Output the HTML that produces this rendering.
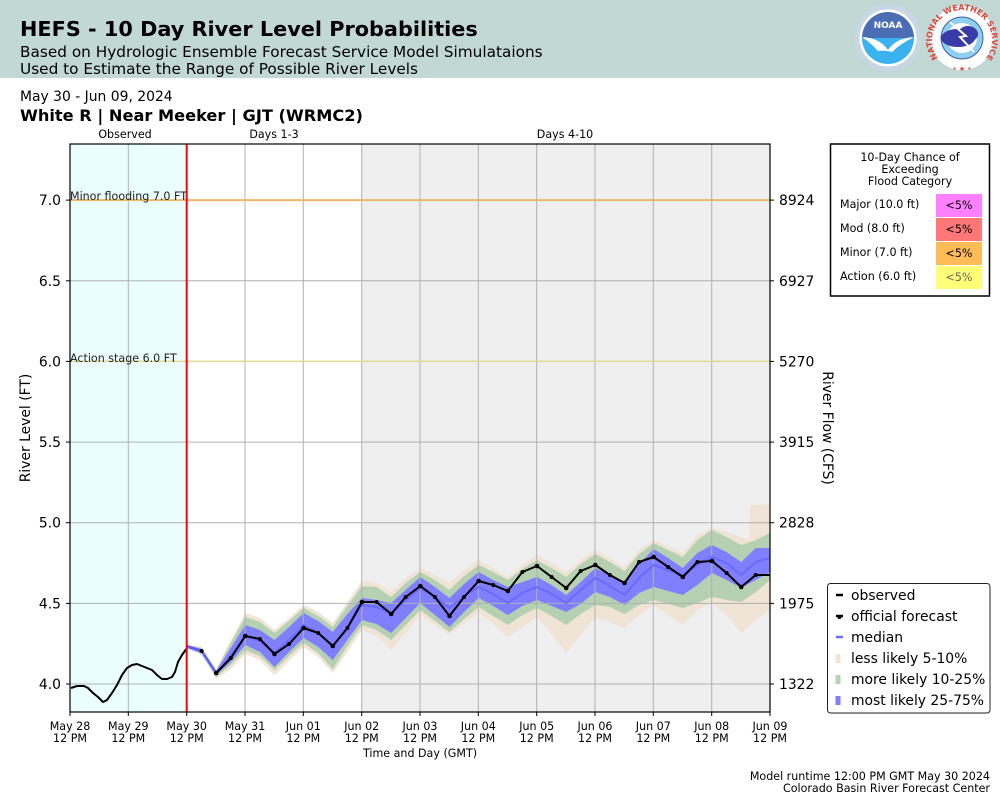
<!DOCTYPE html>
<html><head><meta charset="utf-8"><style>
html,body{margin:0;padding:0;background:#fff;}
svg{display:block;font-family:"DejaVu Sans","Liberation Sans",sans-serif;}
</style></head><body>
<svg width="1000" height="800" viewBox="0 0 1000 800" xmlns="http://www.w3.org/2000/svg">
<!-- header -->
<rect x="0" y="0" width="1000" height="78" fill="#c2d8d5"/>
<text x="20" y="36" font-size="20.8" font-weight="bold" fill="#000">HEFS - 10 Day River Level Probabilities</text>
<text x="20" y="57" font-size="15.3" fill="#000">Based on Hydrologic Ensemble Forecast Service Model Simulataions</text>
<text x="20" y="74" font-size="15.3" fill="#000">Used to Estimate the Range of Possible River Levels</text>

<!-- NOAA logo -->
<g>
<circle cx="888" cy="38" r="32" fill="#fff"/>
<circle cx="888" cy="38" r="31" fill="none" stroke="#c9d6e4" stroke-width="5"/>
<path d="M862,38 A26,26 0 0 1 914,38 Z" fill="#4a6db3"/>
<path d="M862,38 A26,26 0 0 0 914,38 Z" fill="#3ab2f0"/>
<path d="M862,37 Q880,38 888,50 Q896,38 914,37 Q900,44 892,52 Q886,50 878,51 Q872,44 862,37 Z" fill="#fff"/>
<text x="888" y="28" font-size="9" font-weight="bold" fill="#fff" text-anchor="middle">NOAA</text>
</g>
<!-- NWS logo -->
<g>
<circle cx="962" cy="38" r="32" fill="#fff"/>
<defs><path id="nwsarc" d="M938,58 A30,30 0 1 1 986,58"/></defs>
<text font-size="8" font-weight="bold" fill="#e0443a"><textPath href="#nwsarc">NATIONAL WEATHER SERVICE</textPath></text>
<circle cx="962" cy="38" r="21" fill="#8fd0f0" stroke="#3a5fa8" stroke-width="1"/>
<circle cx="962" cy="38" r="15" fill="#fff"/>
<ellipse cx="958" cy="38" rx="17" ry="9" fill="#3a3aa8"/>
<ellipse cx="968" cy="34" rx="10" ry="8" fill="#3a3aa8"/>
<path d="M950,22 L966,36 L960,37 L974,52" stroke="#fff" stroke-width="2" fill="none"/>
<text x="962" y="71" font-size="7" fill="#e0443a" text-anchor="middle">• ★ •</text>
</g>

<text x="20" y="101" font-size="13.9" fill="#000">May 30 - Jun 09, 2024</text>
<text x="20" y="121" font-size="16.2" font-weight="bold" fill="#000">White R | Near Meeker | GJT (WRMC2)</text>

<text x="125" y="138" font-size="11.1" text-anchor="middle">Observed</text>
<text x="274" y="138" font-size="11.1" text-anchor="middle">Days 1-3</text>
<text x="565" y="138" font-size="11.1" text-anchor="middle">Days 4-10</text>

<!-- plot backgrounds -->
<rect x="70" y="144" width="700" height="568" fill="#fff"/>
<rect x="70" y="144" width="116.7" height="568" fill="#ebfefe"/>
<rect x="361.7" y="144" width="408.3" height="568" fill="#efefef"/>

<!-- bands -->
<polygon fill="#efe4d6" points="187,645 201.6,647 216.2,669 230.8,640 245.3,613 259.9,618 274.5,630 289.1,618 303.7,605 318.2,612 332.8,623 347.4,602 362,581 376.6,583 391.2,592 405.7,578 420.3,568 434.9,575 449.5,583 464.1,570 478.7,560 493.2,568 507.8,577 522.4,565 537,555 551.6,563 566.2,572 580.7,560 595.3,550 609.9,558 624.5,567 639.1,550 653.7,540 668.2,546 682.8,553 697.4,535 712,528 726.6,532 741.2,537 749,540 750,505 755.7,505 770,504 770,610 755.7,620 741.2,633 726.6,615 712,603 697.4,610 682.8,625 668.2,615 653.7,605 639.1,615 624.5,628 609.9,622 595.3,617 580.7,635 566.2,653 551.6,634 537,617 522.4,627 507.8,637 493.2,624 478.7,613 464.1,623 449.5,635 434.9,625 420.3,615 405.7,633 391.2,650 376.6,636 362,630 347.4,652 332.8,673 318.2,657 303.7,647 289.1,661 274.5,675 259.9,660 245.3,654 230.8,669 216.2,679 201.6,655 187,648"/>
<polygon fill="#b6d1b1" points="187,645 201.6,648 216.2,670 230.8,643 245.3,617 259.9,622 274.5,633 289.1,621 303.7,608 318.2,616 332.8,627 347.4,606 362,586 376.6,587 391.2,597 405.7,583 420.3,572 434.9,580 449.5,590 464.1,576 478.7,565 493.2,572 507.8,580 522.4,569 537,560 551.6,568 566.2,577 580.7,564 595.3,554 609.9,562 624.5,571 639.1,554 653.7,543 668.2,550 682.8,557 697.4,540 712,530 726.6,537 741.2,545 755.7,540 770,533 770,580 755.7,592 741.2,602 726.6,600 712,597 697.4,603 682.8,608 668.2,604 653.7,600 639.1,605 624.5,614 609.9,607 595.3,605 580.7,614 566.2,625 551.6,616 537,608 522.4,615 507.8,625 493.2,616 478.7,607 464.1,619 449.5,632 434.9,621 420.3,610 405.7,625 391.2,640 376.6,630 362,625 347.4,646 332.8,669 318.2,653 303.7,643 289.1,656 274.5,670 259.9,656 245.3,650 230.8,665 216.2,677 201.6,654 187,648"/>
<polygon fill="#7f7fff" points="187,645 201.6,649 216.2,671 230.8,648 245.3,625 259.9,630 274.5,640 289.1,627 303.7,613 318.2,621 332.8,632 347.4,614 362,598 376.6,600 391.2,603 405.7,590 420.3,577 434.9,587 449.5,598 464.1,584 478.7,572 493.2,580 507.8,587 522.4,582 537,577 551.6,585 566.2,595 580.7,582 595.3,568 609.9,575 624.5,584 639.1,564 653.7,549 668.2,558 682.8,568 697.4,553 712,545 726.6,552 741.2,562 755.7,548 770,548 770,572 755.7,580 741.2,588 726.6,580 712,573 697.4,585 682.8,595 668.2,591 653.7,587 639.1,593 624.5,605 609.9,597 595.3,592 580.7,604 566.2,612 551.6,606 537,600 522.4,606 507.8,615 493.2,606 478.7,598 464.1,612 449.5,627 434.9,615 420.3,603 405.7,618 391.2,633 376.6,624 362,620 347.4,640 332.8,660 318.2,647 303.7,638 289.1,652 274.5,667 259.9,652 245.3,645 230.8,662 216.2,675 201.6,653 187,648"/>

<!-- grid -->
<g stroke="#b0b0b0" stroke-width="1">
<line x1="128.3" y1="144" x2="128.3" y2="712"/>
<line x1="245" y1="144" x2="245" y2="712"/>
<line x1="303.3" y1="144" x2="303.3" y2="712"/>
<line x1="361.7" y1="144" x2="361.7" y2="712"/>
<line x1="420" y1="144" x2="420" y2="712"/>
<line x1="478.3" y1="144" x2="478.3" y2="712"/>
<line x1="536.7" y1="144" x2="536.7" y2="712"/>
<line x1="595" y1="144" x2="595" y2="712"/>
<line x1="653.3" y1="144" x2="653.3" y2="712"/>
<line x1="711.7" y1="144" x2="711.7" y2="712"/>
<line x1="70" y1="200.1" x2="770" y2="200.1"/>
<line x1="70" y1="280.8" x2="770" y2="280.8"/>
<line x1="70" y1="361.4" x2="770" y2="361.4"/>
<line x1="70" y1="442.1" x2="770" y2="442.1"/>
<line x1="70" y1="522.7" x2="770" y2="522.7"/>
<line x1="70" y1="603.4" x2="770" y2="603.4"/>
<line x1="70" y1="684" x2="770" y2="684"/>
</g>

<!-- flood lines -->
<line x1="70" y1="200.1" x2="770" y2="200.1" stroke="#ebb86a" stroke-width="2"/>
<line x1="70" y1="361.4" x2="770" y2="361.4" stroke="#e2da90" stroke-width="1.5"/>
<text x="70" y="200" font-size="11.1" fill="#222">Minor flooding 7.0 FT</text>
<text x="70" y="362" font-size="11.1" fill="#222">Action stage 6.0 FT</text>

<!-- median -->
<polyline fill="none" stroke="#6a6aff" stroke-width="2" points="187,647 201.6,651 216.2,673 230.8,656 245.3,636 259.9,641 274.5,653 289.1,640 303.7,625 318.2,633 332.8,646 347.4,628 362,605 376.6,607 391.2,614 405.7,600 420.3,588 434.9,597 449.5,608 464.1,596 478.7,587 493.2,594 507.8,603 522.4,593 537,587 551.6,594 566.2,603 580.7,590 595.3,578 609.9,586 624.5,595 639.1,578 653.7,565 668.2,570 682.8,575 697.4,565 712,557 726.6,563 741.2,575 755.7,562 770,558"/>

<!-- observed -->
<polyline fill="none" stroke="#000" stroke-width="2" stroke-linejoin="round" points="71,688 77,686 84,686 88,688 93,693 98,697 103,702 107,700 112,693 117,685 122,675 127,668 132,665 137,664 142,666 147,668 152,670 157,675 162,679 167,679 172,677 175,672 178,662 182,655 187,648"/>

<!-- official forecast -->
<polyline fill="none" stroke="#000" stroke-width="2" stroke-linejoin="round" points="216.2,673 230.8,658 245.3,636 259.9,639 274.5,654 289.1,644 303.7,628 318.2,633 332.8,646 347.4,628 362,602 376.6,602 391.2,614 405.7,597 420.3,586 434.9,597 449.5,616 464.1,597 478.7,581 493.2,585 507.8,591 522.4,572 537,566 551.6,577 566.2,588 580.7,571 595.3,565 609.9,575 624.5,583 639.1,562 653.7,557 668.2,567 682.8,577 697.4,562 712,561 726.6,573 741.2,587 755.7,575 770,575"/>
<polyline fill="none" stroke="#5a5aff" stroke-width="2" points="187,646 201.6,651 216.2,673"/>
<g fill="#000">
<circle cx="201.6" cy="651" r="2"/><circle cx="216.2" cy="673" r="2.3"/><circle cx="230.8" cy="658" r="2"/><circle cx="245.3" cy="636" r="2.3"/><circle cx="259.9" cy="639" r="2"/><circle cx="274.5" cy="654" r="2.3"/><circle cx="289.1" cy="644" r="2"/><circle cx="303.7" cy="628" r="2.3"/><circle cx="318.2" cy="633" r="2"/><circle cx="332.8" cy="646" r="2.3"/><circle cx="347.4" cy="628" r="2"/><circle cx="362" cy="602" r="2.3"/><circle cx="376.6" cy="602" r="2"/><circle cx="391.2" cy="614" r="2.3"/><circle cx="405.7" cy="597" r="2"/><circle cx="420.3" cy="586" r="2.3"/><circle cx="434.9" cy="597" r="2"/><circle cx="449.5" cy="616" r="2.3"/><circle cx="464.1" cy="597" r="2"/><circle cx="478.7" cy="581" r="2.3"/><circle cx="493.2" cy="585" r="2"/><circle cx="507.8" cy="591" r="2.3"/><circle cx="522.4" cy="572" r="2"/><circle cx="537" cy="566" r="2.3"/><circle cx="551.6" cy="577" r="2"/><circle cx="566.2" cy="588" r="2.3"/><circle cx="580.7" cy="571" r="2"/><circle cx="595.3" cy="565" r="2.3"/><circle cx="609.9" cy="575" r="2"/><circle cx="624.5" cy="583" r="2.3"/><circle cx="639.1" cy="562" r="2"/><circle cx="653.7" cy="557" r="2.3"/><circle cx="668.2" cy="567" r="2"/><circle cx="682.8" cy="577" r="2.3"/><circle cx="697.4" cy="562" r="2"/><circle cx="712" cy="561" r="2.3"/><circle cx="726.6" cy="573" r="2"/><circle cx="741.2" cy="587" r="2.3"/><circle cx="755.7" cy="575" r="2"/>
</g>

<!-- red now line -->
<line x1="186.7" y1="144" x2="186.7" y2="712" stroke="#ff0000" stroke-width="2"/>

<!-- frame -->
<rect x="70" y="144" width="700" height="568" fill="none" stroke="#000" stroke-width="1.2"/>

<!-- y ticks -->
<g stroke="#000" stroke-width="1">
<line x1="66" y1="200.1" x2="70" y2="200.1"/><line x1="66" y1="280.8" x2="70" y2="280.8"/><line x1="66" y1="361.4" x2="70" y2="361.4"/><line x1="66" y1="442.1" x2="70" y2="442.1"/><line x1="66" y1="522.7" x2="70" y2="522.7"/><line x1="66" y1="603.4" x2="70" y2="603.4"/><line x1="66" y1="684" x2="70" y2="684"/>
<line x1="770" y1="200.1" x2="774" y2="200.1"/><line x1="770" y1="280.8" x2="774" y2="280.8"/><line x1="770" y1="361.4" x2="774" y2="361.4"/><line x1="770" y1="442.1" x2="774" y2="442.1"/><line x1="770" y1="522.7" x2="774" y2="522.7"/><line x1="770" y1="603.4" x2="774" y2="603.4"/><line x1="770" y1="684" x2="774" y2="684"/>
<line x1="70" y1="712" x2="70" y2="716"/><line x1="128.3" y1="712" x2="128.3" y2="716"/><line x1="186.7" y1="712" x2="186.7" y2="716"/><line x1="245" y1="712" x2="245" y2="716"/><line x1="303.3" y1="712" x2="303.3" y2="716"/><line x1="361.7" y1="712" x2="361.7" y2="716"/><line x1="420" y1="712" x2="420" y2="716"/><line x1="478.3" y1="712" x2="478.3" y2="716"/><line x1="536.7" y1="712" x2="536.7" y2="716"/><line x1="595" y1="712" x2="595" y2="716"/><line x1="653.3" y1="712" x2="653.3" y2="716"/><line x1="711.7" y1="712" x2="711.7" y2="716"/><line x1="770" y1="712" x2="770" y2="716"/>
</g>
<g font-size="13.9" text-anchor="end">
<text x="61" y="205.1">7.0</text><text x="61" y="285.8">6.5</text><text x="61" y="366.4">6.0</text><text x="61" y="447.1">5.5</text><text x="61" y="527.7">5.0</text><text x="61" y="608.4">4.5</text><text x="61" y="689">4.0</text>
</g>
<g font-size="13.9">
<text x="779" y="205.1">8924</text><text x="779" y="285.8">6927</text><text x="779" y="366.4">5270</text><text x="779" y="447.1">3915</text><text x="779" y="527.7">2828</text><text x="779" y="608.4">1975</text><text x="779" y="689">1322</text>
</g>
<g font-size="11.1" text-anchor="middle">
<text x="70" y="730">May 28</text><text x="70" y="742">12 PM</text>
<text x="128.3" y="730">May 29</text><text x="128.3" y="742">12 PM</text>
<text x="186.7" y="730">May 30</text><text x="186.7" y="742">12 PM</text>
<text x="245" y="730">May 31</text><text x="245" y="742">12 PM</text>
<text x="303.3" y="730">Jun 01</text><text x="303.3" y="742">12 PM</text>
<text x="361.7" y="730">Jun 02</text><text x="361.7" y="742">12 PM</text>
<text x="420" y="730">Jun 03</text><text x="420" y="742">12 PM</text>
<text x="478.3" y="730">Jun 04</text><text x="478.3" y="742">12 PM</text>
<text x="536.7" y="730">Jun 05</text><text x="536.7" y="742">12 PM</text>
<text x="595" y="730">Jun 06</text><text x="595" y="742">12 PM</text>
<text x="653.3" y="730">Jun 07</text><text x="653.3" y="742">12 PM</text>
<text x="711.7" y="730">Jun 08</text><text x="711.7" y="742">12 PM</text>
<text x="770" y="730">Jun 09</text><text x="770" y="742">12 PM</text>
<text x="420" y="757">Time and Day (GMT)</text>
</g>
<text transform="translate(30,428) rotate(-90)" font-size="13.9" text-anchor="middle">River Level (FT)</text>
<text transform="translate(823,428) rotate(90)" font-size="13.9" text-anchor="middle">River Flow (CFS)</text>

<!-- flood category box -->
<rect x="830.5" y="144" width="159" height="152" fill="#fff" stroke="#000" stroke-width="1.5"/>
<g font-size="11.1" text-anchor="middle">
<text x="910" y="161">10-Day Chance of</text>
<text x="910" y="173">Exceeding</text>
<text x="910" y="185">Flood Category</text>
</g>
<rect x="936" y="194" width="46" height="23" fill="#ff80ff"/>
<rect x="936" y="218" width="46" height="23" fill="#ff7777"/>
<rect x="936" y="242" width="46" height="23" fill="#ffbb55"/>
<rect x="936" y="266" width="46" height="23" fill="#ffff77"/>
<g font-size="11.1">
<text x="840" y="208">Major (10.0 ft)</text>
<text x="840" y="232">Mod (8.0 ft)</text>
<text x="840" y="256">Minor (7.0 ft)</text>
<text x="840" y="280">Action (6.0 ft)</text>
</g>
<g font-size="11.1" text-anchor="middle">
<text x="959" y="209">&lt;5%</text>
<text x="959" y="233">&lt;5%</text>
<text x="959" y="257">&lt;5%</text>
<text x="959" y="281" fill="#666">&lt;5%</text>
</g>

<!-- series legend -->
<rect x="827.5" y="583.5" width="162.5" height="129.5" rx="3" fill="#fff" stroke="#222" stroke-width="1"/>
<line x1="836" y1="595" x2="843" y2="595" stroke="#000" stroke-width="2.5"/>
<line x1="836" y1="616" x2="843" y2="616" stroke="#000" stroke-width="2.5"/><circle cx="839.5" cy="617" r="2" fill="#000"/>
<line x1="836" y1="637" x2="843" y2="637" stroke="#6a6aff" stroke-width="2.5"/>
<rect x="835.5" y="654" width="5" height="9" fill="#efe4d6"/>
<rect x="835.5" y="675" width="5" height="9" fill="#b6d1b1"/>
<rect x="835.5" y="696" width="5" height="9" fill="#7f7fff"/>
<g font-size="13.9">
<text x="851" y="600">observed</text>
<text x="851" y="621">official forecast</text>
<text x="851" y="642">median</text>
<text x="851" y="663">less likely 5-10%</text>
<text x="851" y="684">more likely 10-25%</text>
<text x="851" y="705">most likely 25-75%</text>
</g>

<!-- footer -->
<g font-size="11.1" text-anchor="end">
<text x="990" y="780">Model runtime 12:00 PM GMT May 30 2024</text>
<text x="990" y="792">Colorado Basin River Forecast Center</text>
</g>
</svg>
</body></html>
